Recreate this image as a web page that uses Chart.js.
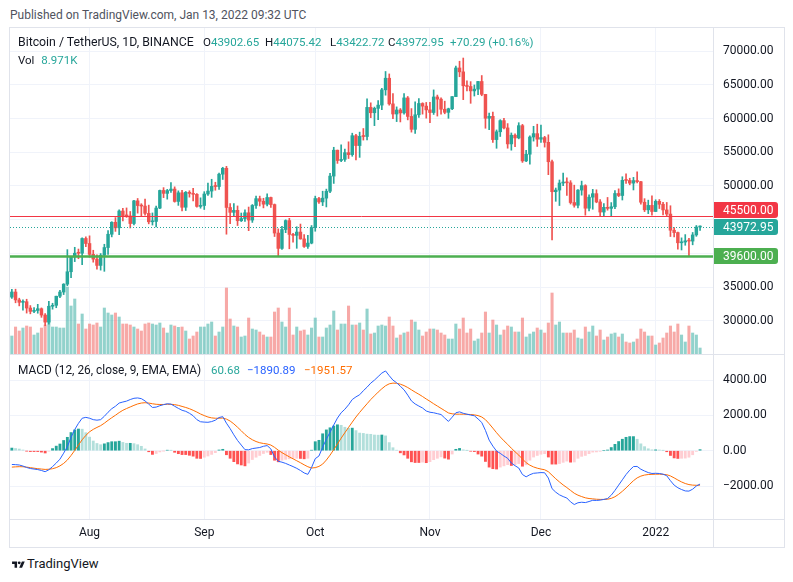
<!DOCTYPE html>
<html>
<head>
<meta charset="utf-8">
<script src="https://cdn.jsdelivr.net/npm/chart.js@4.4.1/dist/chart.umd.min.js"></script>
<style>
  body { margin: 0; background: #fff; width: 793px; height: 582px; overflow: hidden; position: relative; font-family: Roboto, sans-serif; color: #131722; }
  .t { position: absolute; white-space: nowrap; font-size: 11.5px; line-height: 14px; }
  .w { font-size: 12.3px; }
  .g { color: #26a69a; }
  .line { position: absolute; background: #e0e3eb; }
  #frame { position: absolute; left: 9px; top: 27px; width: 776px; height: 521px; box-sizing: border-box; border: 1px solid #e0e3eb; pointer-events: none; }
  .pane { position: absolute; left: 10px; width: 774px; }
</style>
</head>
<body>
<div class="t" style="left:10px;top:8px;font-size:12px;color:#50535e">Published on TradingView.com, Jan 13, 2022 09:32 UTC</div>

<div class="pane" style="top:28px;height:326px"><canvas id="price"></canvas></div>
<div class="pane" style="top:354px;height:193px"><canvas id="macd"></canvas></div>

<div id="frame"></div>
<div class="line" style="left:9px;top:354px;width:776px;height:1px"></div>
<div class="line" style="left:9px;top:519px;width:776px;height:1px"></div>
<div class="line" style="left:713px;top:27px;width:1px;height:521px"></div>

<div class="t w" style="left:18px;top:35px">Bitcoin / TetherUS, 1D, BINANCE</div>
<div class="t" id="lgO" style="left:203px;top:35px"></div>
<div class="t" id="lgH" style="left:265px;top:35px"></div>
<div class="t" id="lgL" style="left:330px;top:35px"></div>
<div class="t" id="lgC" style="left:388px;top:35px"></div>
<div class="t g" id="lgChg" style="left:450px;top:35px"></div>
<div class="t" style="left:18px;top:53px">Vol <span class="g" id="lgVol" style="margin-left:4px"></span></div>

<div class="t" style="left:18px;top:363px;font-size:11.9px">MACD (12, 26, close, 9, EMA, EMA)</div>
<div class="t g" id="lgHist" style="left:211px;top:363px"></div>
<div class="t" id="lgMacd" style="left:247px;top:363px;color:#2962ff"></div>
<div class="t" id="lgSig" style="left:304px;top:363px;color:#ff6d00"></div>

<svg style="position:absolute;left:12px;top:560px" width="13" height="10" viewBox="0 0 36 28">
  <path d="M14 22H7V11H0V4h14v18zM28 22h-8l7.5-18h8L28 22z" fill="#131722"/>
  <circle cx="20" cy="8" r="4" fill="#131722"/>
</svg>
<div class="t" style="left:27px;top:557px;font-size:13px">TradingView</div>

<script>
// BTCUSDT daily, 2021-07-11 .. 2022-01-13
const firstDay = Date.UTC(2021, 6, 11)

const opens = [
  33502, 34259, 33087, 32730, 32821, 31880, 31384, 31520, 31778, 30839, 29791, 32144, 32287, 33634, 34259, 35425, 37269, 39457, 40020, 40016, 42206,
  41461, 39846, 39147, 38207, 39723, 40862, 42836, 44614, 43792, 46285, 45595, 45555, 44428, 47794, 47097, 47019, 45936, 44686, 44741, 46723, 49339, 48905, 49321, 49546, 47707, 48993, 46843, 49069, 48896, 48767, 46970,
  47101, 48811, 49247, 49942, 49923, 51754, 52633, 46811, 46091, 46391, 44843, 45161, 46026, 44940, 47112, 48122, 47737, 47300, 48294, 47242, 43015, 40734, 43543, 44866, 42810, 42670, 43161, 42147, 41026, 41524,
  43824, 48141, 47634, 48200, 49224, 51471, 55315, 53785, 53951, 54950, 54659, 57471, 56006, 57367, 57347, 61672, 60875, 61528, 62010, 64280, 66001, 62193, 60688, 61286, 60852, 63078, 60329, 58413, 60575, 62253, 61859,
  61300, 60911, 63219, 62896, 61395, 60937, 61470, 63273, 67525, 66947, 64882, 64774, 64122, 64380, 65519, 63606, 60058, 60344, 56891, 58052, 59707, 58622, 56247, 57541, 57138, 58960, 53726, 54721, 57274, 57776,
  56950, 57184, 56480, 53602, 49152, 49397, 50441, 50589, 50471, 47545, 47140, 49390, 50053, 46702, 48343, 48864, 47632, 46131, 46834, 46681, 46914, 48889, 48588, 50838, 50821, 50429, 50809, 50640, 47588, 46464, 47120,
  46217, 47722, 47287, 46446, 45833, 43432, 43082, 41566, 41680, 41864, 41822, 42736, 43902.65
]
const highs = [
  34666, 34679, 33342, 33114, 33186, 32249, 31948, 32435, 31899, 31063, 32859, 32591, 33650, 34500, 35500, 40550, 39542, 40900, 40640, 42316, 42448,
  42599, 40459, 39780, 39969, 41350, 43392, 44700, 45310, 46454, 46700, 46743, 46218, 47886, 48145, 47372, 48054, 47160, 46000, 47033, 49382, 49757, 49500, 50500, 49875, 49277, 49365, 49185, 49300, 49653, 48888, 48246,
  49156, 50450, 51000, 50558, 51900, 52780, 52920, 47400, 47399, 47040, 45988, 46460, 46876, 47250, 48500, 48499, 48178, 48844, 48361, 47330, 43639, 44000, 44978, 45200, 42966, 43950, 44350, 42788, 42690, 44132,
  48495, 48336, 49228, 49536, 51886, 55750, 55338, 56100, 55490, 56561, 57840, 57680, 58000, 58533, 62933, 62350, 61718, 62695, 64486, 67000, 66639, 63732, 61747, 61500, 63711, 63293, 61496, 62499, 62980, 62359, 62406,
  62437, 64270, 63500, 63086, 62595, 61560, 63286, 67789, 68524, 69000, 65600, 65500, 65000, 65550, 66401, 63617, 60840, 60976, 58320, 59845, 60029, 59266, 57875, 57735, 59398, 59150, 55280, 57445, 58865, 59176,
  59053, 57375, 57600, 53859, 49699, 50891, 51936, 51200, 50797, 50125, 49485, 50724, 50189, 48700, 49500, 49436, 47995, 47392, 48300, 47537, 49328, 49576, 51375, 51810, 51156, 51280, 52088, 50704, 48119, 47900, 48548,
  47954, 47990, 47570, 47557, 47070, 43816, 43146, 42300, 42786, 42248, 43100, 44135, 44075.42
]
const lows = [
  33306, 32659, 32200, 31550, 31133, 31020, 31180, 31109, 30502, 29278, 29482, 31708, 31925, 33402, 33881, 35205, 36384, 38772, 39200, 38313, 41000,
  39422, 38690, 37642, 37509, 37332, 39853, 42446, 43262, 42779, 44800, 45341, 43770, 44218, 45971, 45500, 45660, 44376, 44203, 43927, 46643, 48273, 48050, 49030, 47600, 47123, 46315, 46361, 48345, 47800, 46853, 46700,
  46513, 48584, 48316, 49370, 49500, 50969, 42843, 44412, 45513, 44132, 44722, 44742, 43370, 44594, 46684, 47028, 46750, 47035, 46829, 42500, 39600, 40566, 43070, 40676, 41646, 40750, 42098, 40888, 40744, 41410,
  43283, 47430, 47088, 46891, 49022, 50382, 53357, 53617, 53661, 54080, 54415, 53879, 54251, 56818, 56850, 60150, 58963, 59844, 61323, 63482, 62000, 60000, 59562, 59510, 60650, 59817, 58000, 57820, 60174, 60673, 60074,
  59405, 60624, 60382, 60677, 60721, 60050, 61322, 63273, 66222, 62822, 64100, 62278, 63360, 63576, 63400, 58574, 58373, 56474, 55600, 57353, 58486, 55610, 55317, 55837, 57000, 53500, 53611, 53256, 56666, 55875,
  56458, 55777, 51680, 42000, 47727, 47100, 50039, 48600, 47320, 46852, 46751, 48638, 45672, 46290, 46547, 47511, 45456, 45500, 46406, 45558, 46630, 48421, 47920, 50384, 50181, 49412, 50450, 47313, 46201, 45900, 45678,
  46208, 46654, 45696, 45500, 42500, 42430, 40611, 40501, 41200, 39650, 41268, 42528, 43422.72
]
const closes = [
  34259, 33087, 32730, 32821, 31880, 31384, 31520, 31778, 30839, 29791, 32144, 32287, 33634, 34259, 35425, 37269, 39457, 40020, 40016, 42206, 41461,
  39846, 39147, 38207, 39723, 40862, 42836, 44614, 43792, 46285, 45595, 45555, 44428, 47794, 47097, 47019, 45936, 44686, 44741, 46723, 49339, 48905, 49321, 49546, 47707, 48993, 46843, 49069, 48896, 48767, 46970, 47101,
  48811, 49247, 49942, 49923, 51754, 52633, 46811, 46091, 46391, 44843, 45161, 46026, 44940, 47112, 48122, 47737, 47300, 48294, 47242, 43015, 40734, 43543, 44866, 42810, 42670, 43161, 42147, 41026, 41524, 43824,
  48141, 47634, 48200, 49224, 51471, 55315, 53785, 53951, 54950, 54659, 57471, 56006, 57367, 57347, 61672, 60875, 61528, 62010, 64280, 66001, 62193, 60688, 61286, 60852, 63078, 60329, 58413, 60575, 62253, 61859, 61300,
  60911, 63219, 62896, 61395, 60937, 61470, 63273, 67525, 66947, 64882, 64774, 64122, 64380, 65519, 63606, 60058, 60344, 56891, 58052, 59707, 58622, 56247, 57541, 57138, 58960, 53726, 54721, 57274, 57776, 56950,
  57184, 56480, 53602, 49152, 49397, 50441, 50589, 50471, 47545, 47140, 49390, 50053, 46702, 48343, 48864, 47632, 46131, 46834, 46681, 46914, 48889, 48588, 50838, 50821, 50429, 50809, 50640, 47588, 46464, 47120, 46217,
  47722, 47287, 46446, 45833, 43432, 43082, 41566, 41680, 41864, 41822, 42736, 43902.66, 43972.95
]
// volume in thousands of BTC
const volumes = [
  27, 40.5, 34.5, 39, 42, 40.5, 28.5, 31.5, 39, 43.5, 58.5, 40.5, 40.5, 39, 39, 100.5, 72, 82.5, 45, 60, 37.5,
  45, 43.5, 46.5, 40.5, 69, 61.5, 58.5, 61.5, 55.5, 45, 45, 43.5, 40.5, 37.5, 34.5, 45, 46.5, 45, 43.5, 46.5, 39, 31.5, 43.5, 42, 40, 40.5, 34.5, 22.5, 27, 33, 40.5,
  40.5, 45, 48, 27, 33, 40.5, 99, 52.5, 42, 40.5, 25.5, 27, 54, 37.5, 36, 33, 28.5, 25.5, 25.5, 63, 69, 48, 40.5, 69, 28.5, 40.5, 34.5, 36, 28.5, 39,
  54, 25.5, 25.5, 39, 43.5, 64.5, 36, 45, 45, 72, 43.5, 43.5, 46.5, 36, 67.5, 30, 31.5, 42, 43.5, 42, 55.5, 42, 24, 28.5, 31.5, 33, 51, 48, 36, 27, 33,
  37.5, 37.5, 36, 31.5, 28.5, 22.5, 22.5, 45, 37.5, 54, 31.5, 37.5, 19.5, 22.5, 31.5, 63, 31.5, 51, 43.5, 28.5, 36, 42, 40.5, 33, 33, 54, 25.5, 30, 33, 39,
  36, 31.5, 46.5, 91.5, 43.5, 48, 31.5, 31.5, 31.5, 36, 24, 22.5, 40.5, 33, 42, 27, 36, 21, 25.5, 30, 31.5, 25.5, 30, 18, 16.5, 18, 22.5, 37.5, 33, 27, 27,
  13.5, 16.5, 24, 31.5, 42, 33, 45, 28.5, 18, 42, 31.5, 28.5, 8.971
]

// MACD (12, 26, 9)
const macdLine = [
  -780, -790, -810, -870, -950, -1010, -1040, -1070, -1120, -1190, -1080, -900, -700, -480, -140, 230, 760, 1200, 1550, 1840, 1890,
  1840, 1760, 1730, 1760, 1950, 2180, 2380, 2520, 2700, 2760, 2810, 2900, 2970, 2990, 2950, 2820, 2640, 2450, 2470, 2550, 2610, 2660, 2640, 2520, 2400, 2290, 2230, 2120, 1980, 1760, 1640,
  1620, 1610, 1650, 1730, 1880, 1930, 1560, 1250, 900, 580, 320, 60, 50, 120, 150, 180, 250, 290, 100, -350, -600, -650, -720, -810, -900, -1000, -1120, -1260, -1340, -950,
  -450, -300, 200, 650, 1050, 1460, 1850, 2150, 2350, 2600, 2900, 3050, 3170, 3400, 3600, 3830, 4000, 4200, 4400, 4520, 4250, 4000, 3850, 3650, 3450, 3150, 2820, 2650, 2530, 2420, 2250,
  2180, 2150, 2100, 2050, 1850, 1660, 1900, 2150, 2200, 2120, 2070, 2020, 1980, 1800, 1600, 1150, 600, 260, -20, -150, -300, -430, -700, -850, -980, -1350, -1480, -1360, -1280, -1260,
  -1240, -1250, -1550, -2150, -2350, -2500, -2600, -2680, -2900, -3050, -2950, -2920, -2940, -2880, -2810, -2820, -2800, -2760, -2710, -2520, -2250, -1950, -1650, -1350, -1100, -900, -890, -1050, -1150, -1240, -1290,
  -1280, -1290, -1330, -1420, -1700, -1950, -2100, -2200, -2280, -2290, -2180, -2000, -1890.89
]
const signalLine = [
  -930, -915, -905, -910, -930, -960, -990, -1020, -1040, -1060, -1050, -1020, -960, -860, -720, -530, -270, 20, 320, 620, 870,
  1070, 1210, 1320, 1420, 1560, 1720, 1870, 2010, 2160, 2290, 2390, 2480, 2570, 2650, 2700, 2720, 2700, 2660, 2630, 2620, 2620, 2630, 2630, 2610, 2570, 2510, 2450, 2380, 2290, 2190, 2080,
  1990, 1910, 1860, 1840, 1840, 1850, 1790, 1680, 1520, 1330, 1130, 920, 750, 620, 520, 450, 410, 380, 320, 190, 30, -110, -230, -350, -460, -570, -680, -800, -910, -980,
  -960, -890, -760, -530, -250, 60, 380, 710, 1020, 1320, 1620, 1910, 2170, 2420, 2660, 2900, 3110, 3320, 3510, 3680, 3790, 3830, 3820, 3770, 3690, 3580, 3450, 3320, 3200, 3070, 2930,
  2800, 2660, 2530, 2400, 2270, 2140, 2090, 2070, 2070, 2070, 2060, 2050, 2030, 1990, 1910, 1760, 1530, 1280, 1020, 780, 560, 360, 140, -60, -250, -470, -680, -820, -920, -990,
  -1040, -1080, -1190, -1390, -1590, -1770, -1940, -2090, -2250, -2410, -2520, -2600, -2670, -2710, -2730, -2750, -2760, -2760, -2750, -2700, -2610, -2470, -2300, -2110, -1900, -1700, -1540, -1440, -1380, -1350, -1340,
  -1330, -1330, -1340, -1360, -1430, -1540, -1660, -1770, -1860, -1920, -1950, -1960, -1951.57
]
const histogram = [
  150, 125, 95, 40, -20, -50, -50, -50, -80, -130, -30, 120, 260, 380, 580, 760, 1030, 1180, 1230, 1220, 1020,
  770, 550, 410, 340, 390, 460, 510, 510, 540, 470, 420, 420, 400, 340, 250, 100, -60, -210, -160, -70, -10, 30, 10, -90, -170, -220, -220, -260, -310, -430, -440,
  -370, -300, -210, -110, 40, 80, -230, -430, -620, -750, -810, -860, -700, -500, -370, -270, -160, -90, -220, -540, -630, -540, -490, -460, -440, -430, -440, -460, -430, 30,
  510, 590, 960, 1180, 1300, 1400, 1470, 1440, 1330, 1280, 1280, 1140, 1000, 980, 940, 930, 890, 880, 890, 840, 460, 170, 30, -120, -240, -430, -630, -670, -670, -650, -680,
  -620, -510, -430, -350, -420, -480, -190, 80, 130, 50, 10, -30, -50, -190, -310, -610, -930, -1020, -1040, -930, -860, -790, -840, -790, -730, -880, -800, -540, -360, -270,
  -200, -170, -360, -760, -760, -730, -660, -590, -650, -640, -430, -320, -270, -170, -80, -70, -40, 0, 40, 180, 360, 520, 650, 760, 800, 800, 650, 390, 230, 110, 50,
  50, 40, 10, -60, -270, -410, -440, -430, -420, -370, -230, -40, 60.68
]

// axis ticks and horizontal levels
const priceTicks = [30000, 35000, 40000, 45000, 50000, 55000, 60000, 65000, 70000]
const macdTicks = [-2000, 0, 2000, 4000]
const levelValues = [45500, 39600]
const monthNames = ['Jan', 'Feb', 'Mar', 'Apr', 'May', 'Jun', 'Jul', 'Aug', 'Sep', 'Oct', 'Nov', 'Dec']
const blankDays = 3

const UP = '#26a69a'
const DOWN = '#ef5350'
const GRID = '#f0f3fa'
const TEXT = '#131722'
const levelColors = ['#f23645', '#4caf50']
const levelWidths = [1, 2.5]

const dates = closes.map((_, i) => new Date(firstDay + i * 86400000))
const labels = dates.map(d => d.toISOString().slice(0, 10)).concat(Array(blankDays).fill(''))
const last = closes.length - 1
const lastClose = closes[last]

const isMonthStart = i => i < dates.length && dates[i].getUTCDate() === 1
const monthLabel = i => {
    if (!isMonthStart(i)) return ''
    const m = dates[i].getUTCMonth()
    return m === 0 ? String(dates[i].getUTCFullYear()) : monthNames[m]
}
const monthGrid = ctx => isMonthStart(ctx.index) ? GRID : 'rgba(0,0,0,0)'
const isUp = i => closes[i] >= opens[i]
const candleColor = ctx => isUp(ctx.dataIndex) ? UP : DOWN
const volColor = ctx => isUp(ctx.dataIndex) ? 'rgba(38,166,154,0.5)' : 'rgba(239,83,80,0.5)'
const histColor = ctx => {
    const i = ctx.dataIndex
    const h = histogram[i]
    const p = i > 0 ? histogram[i - 1] : h
    if (h >= 0) return h >= p ? '#26a69a' : '#b2dfdb'
    return h <= p ? '#ff5252' : '#ffcdd2'
}
const fmt = v => (v < 0 ? '\u2212' : '') + Math.abs(v).toFixed(2)

// legends
const chg = closes[last] - closes[last - 1]
document.getElementById('lgO').innerHTML = `O<span class="g">${opens[last].toFixed(2)}</span>`
document.getElementById('lgH').innerHTML = `H<span class="g">${highs[last].toFixed(2)}</span>`
document.getElementById('lgL').innerHTML = `L<span class="g">${lows[last].toFixed(2)}</span>`
document.getElementById('lgC').innerHTML = `C<span class="g">${closes[last].toFixed(2)}</span>`
document.getElementById('lgChg').textContent = `+${chg.toFixed(2)} (+${(chg / closes[last - 1] * 100).toFixed(2)}%)`
document.getElementById('lgVol').textContent = `${volumes[last].toFixed(3)}K`
document.getElementById('lgHist').textContent = fmt(histogram[last])
document.getElementById('lgMacd').textContent = fmt(macdLine[last])
document.getElementById('lgSig').textContent = fmt(signalLine[last])

Chart.defaults.font.family = 'Roboto, sans-serif'
Chart.defaults.font.size = 12
Chart.defaults.color = TEXT

/**
 * Level lines, last price line and their boxes on the price axis
 */
const levelPlugin = {
    id: 'levels',
    afterDatasetsDraw(chart) {
        const { ctx, chartArea: a, scales: { y } } = chart
        ctx.save()
        levelValues.forEach((v, k) => {
            const py = Math.round(y.getPixelForValue(v)) + 0.5
            ctx.strokeStyle = levelColors[k]
            ctx.lineWidth = levelWidths[k]
            ctx.beginPath()
            ctx.moveTo(a.left, py)
            ctx.lineTo(a.right, py)
            ctx.stroke()
        })
        const lp = Math.round(y.getPixelForValue(lastClose)) + 0.5
        ctx.setLineDash([1, 2])
        ctx.strokeStyle = UP
        ctx.lineWidth = 1
        ctx.beginPath()
        ctx.moveTo(a.left, lp)
        ctx.lineTo(a.right, lp)
        ctx.stroke()
        ctx.restore()
    },
    afterDraw(chart) {
        const { ctx, chartArea: a, scales: { y } } = chart
        const h = 16
        const boxes = [{ v: lastClose, color: UP, cy: y.getPixelForValue(lastClose) }]
        levelValues.forEach((v, k) => boxes.push({ v, color: levelColors[k], cy: y.getPixelForValue(v) }))
        // push level boxes away from the last price box
        for (let k = 1; k < boxes.length; k++) {
            const d = boxes[k].cy - boxes[0].cy
            if (Math.abs(d) < h + 1) boxes[k].cy = boxes[0].cy + (d < 0 ? -(h + 1) : h + 1)
        }
        ctx.save()
        boxes.forEach(b => {
            const top = Math.round(b.cy - h / 2)
            ctx.fillStyle = b.color
            ctx.beginPath()
            ctx.roundRect(a.right, top, 65, h, [0, 3, 3, 0])
            ctx.fill()
            ctx.fillStyle = '#fff'
            ctx.font = '12px Roboto, sans-serif'
            ctx.textBaseline = 'middle'
            ctx.textAlign = 'left'
            ctx.fillText(b.v.toFixed(2), a.right + 10, top + h / 2 + 0.5)
        })
        ctx.restore()
    }
}

const nearLevel = v => [lastClose, ...levelValues].some(l => Math.abs(l - v) < 1500)

new Chart(document.getElementById('price'), {
    type: 'bar',
    data: {
        labels,
        datasets: [
            {
                data: opens.map((o, i) => [o, closes[i]]),
                backgroundColor: candleColor,
                barThickness: 2.8,
                minBarLength: 1,
                grouped: false,
                order: 1,
                yAxisID: 'y'
            },
            {
                data: lows.map((l, i) => [l, highs[i]]),
                backgroundColor: candleColor,
                barThickness: 1,
                grouped: false,
                order: 2,
                yAxisID: 'y'
            },
            {
                data: volumes,
                backgroundColor: volColor,
                barThickness: 2.4,
                grouped: false,
                order: 3,
                yAxisID: 'v'
            }
        ]
    },
    options: {
        responsive: true,
        maintainAspectRatio: false,
        animation: false,
        events: [],
        layout: { padding: 0 },
        plugins: { legend: { display: false }, tooltip: { enabled: false } },
        scales: {
            x: {
                offset: true,
                grid: { offset: false, drawTicks: false, color: monthGrid },
                border: { display: false },
                ticks: { display: false, autoSkip: false },
                afterFit: s => { s.height = 0; s.paddingLeft = 0; s.paddingRight = 0 }
            },
            y: {
                position: 'right',
                min: 25056,
                max: 73459,
                grid: { drawTicks: false, color: GRID },
                border: { display: false },
                afterBuildTicks: s => { s.ticks = priceTicks.map(value => ({ value })) },
                ticks: {
                    padding: 10,
                    callback: v => nearLevel(v) ? '' : v.toFixed(2)
                },
                afterFit: s => { s.width = 71; s.paddingTop = 0; s.paddingBottom = 0 }
            },
            v: { display: false, min: 0, max: 489 }
        }
    },
    plugins: [levelPlugin]
})

new Chart(document.getElementById('macd'), {
    type: 'bar',
    data: {
        labels,
        datasets: [
            {
                type: 'line',
                data: macdLine,
                borderColor: '#2962ff',
                borderWidth: 1,
                pointRadius: 0,
                tension: 0,
                order: 1
            },
            {
                type: 'line',
                data: signalLine,
                borderColor: '#ff6d00',
                borderWidth: 1,
                pointRadius: 0,
                tension: 0,
                order: 2
            },
            {
                data: histogram,
                backgroundColor: histColor,
                barThickness: 2.2,
                grouped: false,
                order: 3
            }
        ]
    },
    options: {
        responsive: true,
        maintainAspectRatio: false,
        animation: false,
        events: [],
        layout: { padding: 0 },
        plugins: { legend: { display: false }, tooltip: { enabled: false } },
        scales: {
            x: {
                offset: true,
                grid: { offset: false, drawTicks: false, color: monthGrid },
                border: { display: false },
                ticks: { autoSkip: false, maxRotation: 0, minRotation: 0, padding: 7, callback: (v, i) => monthLabel(i) },
                afterFit: s => { s.height = 28; s.paddingLeft = 0; s.paddingRight = 0 }
            },
            y: {
                position: 'right',
                min: -3870,
                max: 5480,
                grid: { drawTicks: false, color: GRID },
                border: { display: false },
                afterBuildTicks: s => { s.ticks = macdTicks.map(value => ({ value })) },
                ticks: { padding: 10, callback: v => fmt(v) },
                afterFit: s => { s.width = 71; s.paddingTop = 0; s.paddingBottom = 0 }
            }
        }
    }
})
</script>
</body>
</html>
